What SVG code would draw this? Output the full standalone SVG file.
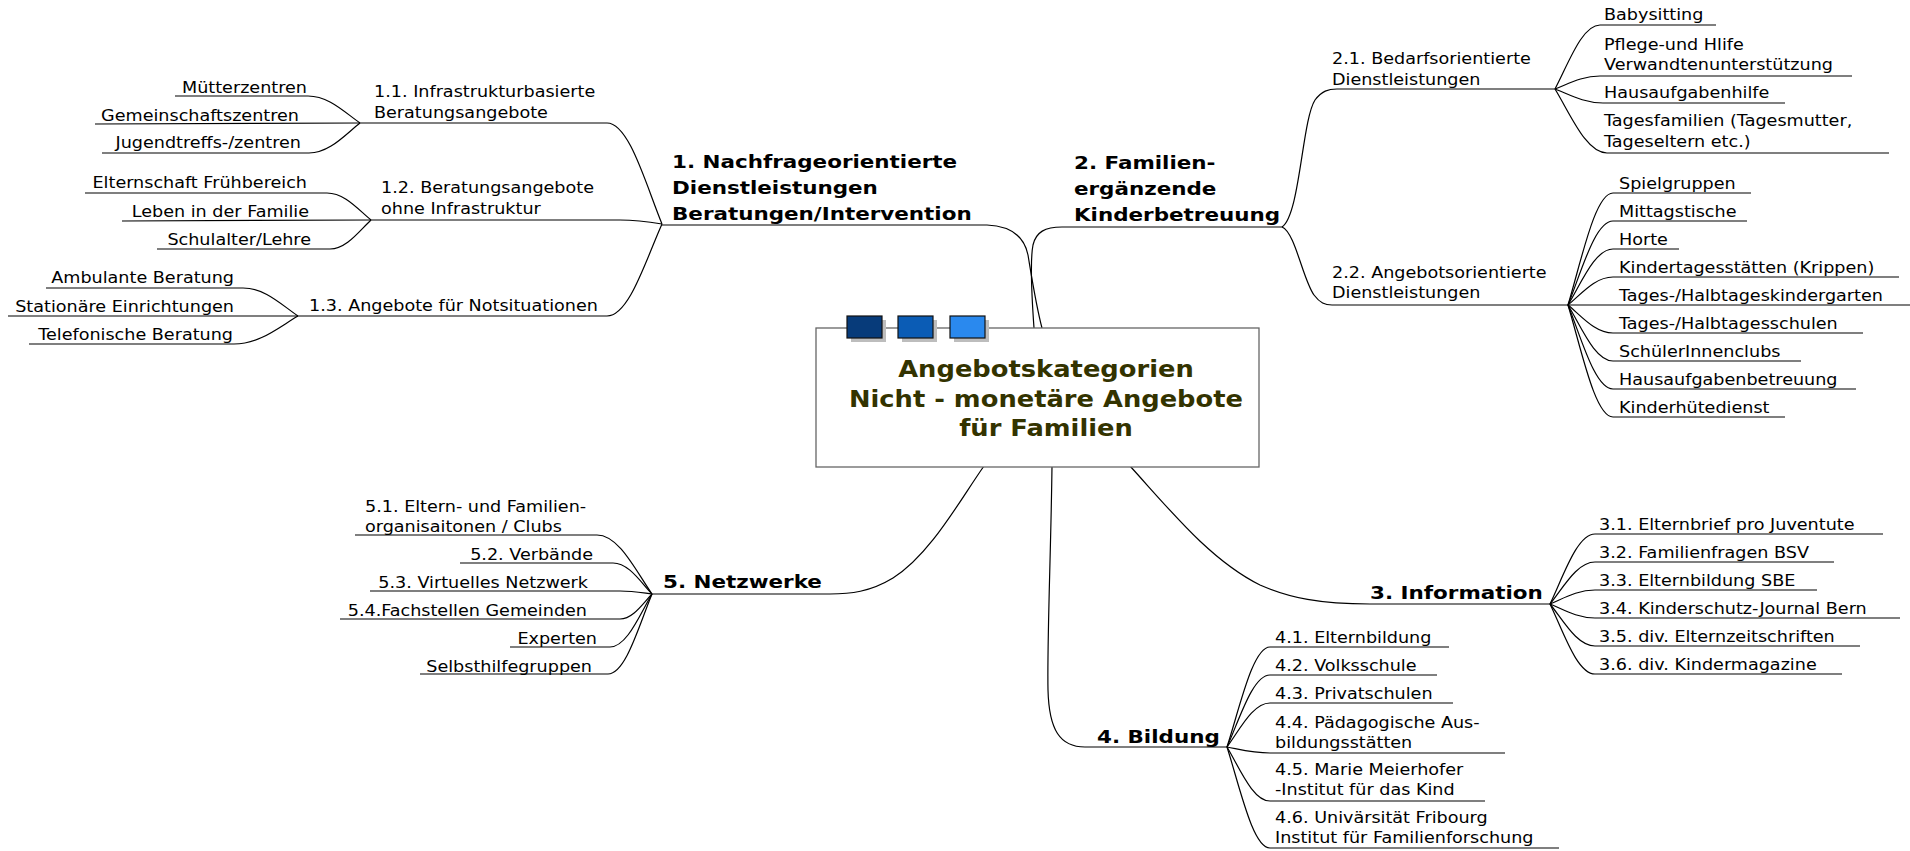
<svg xmlns="http://www.w3.org/2000/svg" width="1910" height="851" viewBox="0 0 1910 851">
<style>
.t{font-family:"DejaVu Sans","Liberation Sans",sans-serif;font-size:16px;fill:#000}
.e{text-anchor:end}
.b{font-family:"DejaVu Sans","Liberation Sans",sans-serif;font-size:18.5px;font-weight:bold;fill:#000}
.c{font-family:"DejaVu Sans","Liberation Sans",sans-serif;font-size:23px;font-weight:bold;fill:#333300;text-anchor:middle}
.ln{fill:none;stroke:#000;stroke-width:1.2}
.sh{fill:#bdbdbd}
.sq{stroke:#111;stroke-width:1.2}
</style>
<rect width="1910" height="851" fill="#fff"/>
<g id="connectors" class="ln">
<path d="M175,96 L308,96 C328.8,96 344.4,112.2 360,123"/>
<path d="M95,124 L360,123"/>
<path d="M102,153 L309,153 C329.4,153 344.7,135 360,123"/>
<path d="M85,193 L327,193 C344.6,193 357.8,209.2 371,220"/>
<path d="M122,221 L371,220"/>
<path d="M157,249 L330,249 C346.4,249 358.7,231.6 371,220"/>
<path d="M46,288 L243,288 C265,288 281.5,304.8 298,316"/>
<path d="M8,316 L298,316"/>
<path d="M29,344 L234,344 C259.6,344 278.8,327.2 298,316"/>
<path d="M360,123 L607,123 C629,123 645.5,183.6 662,224"/>
<path d="M371,220 L620,220 C637,220 650,222 662,224"/>
<path d="M298,316 L607,316 C629,316 645.5,260.8 662,224"/>
<path d="M662,225 L987,225 C1010,226 1024,235 1028,255 C1033,285 1036,305 1042,328"/>
<path d="M1034,328 C1032,300 1030,260 1033,245 C1036,232 1045,227 1062,227 L1282,227"/>
<path d="M1282,227 C1300,215 1302,120 1315,100 C1322,91 1328,89 1337,89 L1555,89"/>
<path d="M1282,227 C1295,232 1303,280 1314,295 C1320,303 1325,305 1332,305 L1568,305"/>
<path d="M1555,89 C1568.5,63.4 1582,25 1600,25 L1716,25"/>
<path d="M1555,89 C1568.5,83.8 1582,76 1600,76 L1852,76"/>
<path d="M1555,89 C1569.4,94.6 1583.8,103 1603,103 L1785,103"/>
<path d="M1555,89 C1570.6,114.6 1586.2,153 1607,153 L1889,153"/>
<path d="M1568,305 C1581.5,260.2 1595,193 1613,193 L1751,193"/>
<path d="M1568,305 C1581.5,271.4 1595,221 1613,221 L1747,221"/>
<path d="M1568,305 C1581.5,282.6 1595,249 1613,249 L1679,249"/>
<path d="M1568,305 C1581.5,293.8 1595,277 1613,277 L1899,277"/>
<path d="M1568,305 L1910,305"/>
<path d="M1568,305 C1581.5,316.2 1595,333 1613,333 L1863,333"/>
<path d="M1568,305 C1581.5,327.4 1595,361 1613,361 L1801,361"/>
<path d="M1568,305 C1581.5,338.6 1595,389 1613,389 L1856,389"/>
<path d="M1568,305 C1581.5,349.8 1595,417 1613,417 L1785,417"/>
<path d="M1130,466 C1170,510 1210,560 1260,585 C1290,598 1320,604 1370,604 L1550,604"/>
<path d="M1550,604 C1563.5,576 1577,534 1595,534 L1883,534"/>
<path d="M1550,604 C1563.5,587.2 1577,562 1595,562 L1834,562"/>
<path d="M1550,604 C1563.5,598.4 1577,590 1595,590 L1817,590"/>
<path d="M1550,604 C1563.5,609.6 1577,618 1595,618 L1900,618"/>
<path d="M1550,604 C1563.5,620.8 1577,646 1595,646 L1860,646"/>
<path d="M1550,604 C1563.5,632 1577,674 1595,674 L1842,674"/>
<path d="M1052,466 C1051,550 1047,640 1048,690 C1049,730 1060,747 1085,747 L1227,747"/>
<path d="M1227,747 C1239.9,707 1252.8,647 1270,647 L1449,647"/>
<path d="M1227,747 C1239.9,718.2 1252.8,675 1270,675 L1437,675"/>
<path d="M1227,747 C1239.9,729.4 1252.8,703 1270,703 L1453,703"/>
<path d="M1227,747 C1239.9,749.4 1252.8,753 1270,753 L1505,753"/>
<path d="M1227,747 C1239.9,768.6 1252.8,801 1270,801 L1485,801"/>
<path d="M1227,747 C1239.9,787.4 1252.8,848 1270,848 L1559,848"/>
<path d="M652,594 L830,594 C850,594 870,592 893,578 C930,555 960,500 984,466"/>
<path d="M355,535 L597,535 C619,535 635.5,570.4 652,594"/>
<path d="M460,563 L613,563 C628.6,563 640.3,581.6 652,594"/>
<path d="M370,591 L620,591 C632.8,591 642.4,592.8 652,594"/>
<path d="M340,619 L620,619 C632.8,619 642.4,604 652,594"/>
<path d="M510,647 L610,647 C626.8,647 639.4,615.2 652,594"/>
<path d="M420,674 L608,674 C625.6,674 638.8,626 652,594"/>
</g>
<g id="center">
<rect x="816" y="328" width="443" height="139" fill="#fff" stroke="#666" stroke-width="1.3"/>
<rect class="sh" x="851" y="320" width="35" height="22"/>
<rect class="sh" x="902" y="320" width="35" height="22"/>
<rect class="sh" x="954" y="320" width="35" height="22"/>
<rect class="sq" x="847" y="316" width="35" height="22" fill="#073b7a"/>
<rect class="sq" x="898" y="316" width="35" height="22" fill="#0b5cb5"/>
<rect class="sq" x="950" y="316" width="35" height="22" fill="#2a89ee"/>
<text class="c" transform="matrix(1.12 0 0 1 1046 377)"><tspan x="0" y="0">Angebotskategorien</tspan><tspan x="0" y="30">Nicht - monetäre Angebote</tspan><tspan x="0" y="59">für Familien</tspan></text>
</g>
<g id="n1"><text class="b" transform="matrix(1.16 0 0 1 672 168)"><tspan x="0" y="0">1. Nachfrageorientierte</tspan><tspan x="0" y="26">Dienstleistungen</tspan><tspan x="0" y="52">Beratungen/Intervention</tspan></text></g>
<g id="n1-1"><text class="t" transform="matrix(1.1 0 0 1 374 97)"><tspan x="0" y="0">1.1. Infrastrukturbasierte</tspan><tspan x="0" y="21">Beratungsangebote</tspan></text></g>
<g id="n1-1-1"><text class="t e" transform="matrix(1.1 0 0 1 307 93)">Mütterzentren</text></g>
<g id="n1-1-2"><text class="t e" transform="matrix(1.1 0 0 1 299 121)">Gemeinschaftszentren</text></g>
<g id="n1-1-3"><text class="t e" transform="matrix(1.1 0 0 1 301 148)">Jugendtreffs-/zentren</text></g>
<g id="n1-2"><text class="t" transform="matrix(1.1 0 0 1 381 193)"><tspan x="0" y="0">1.2. Beratungsangebote</tspan><tspan x="0" y="21">ohne Infrastruktur</tspan></text></g>
<g id="n1-2-1"><text class="t e" transform="matrix(1.1 0 0 1 307 188)">Elternschaft Frühbereich</text></g>
<g id="n1-2-2"><text class="t e" transform="matrix(1.1 0 0 1 309 217)">Leben in der Familie</text></g>
<g id="n1-2-3"><text class="t e" transform="matrix(1.1 0 0 1 311 245)">Schulalter/Lehre</text></g>
<g id="n1-3"><text class="t" transform="matrix(1.1 0 0 1 309 311)">1.3. Angebote für Notsituationen</text></g>
<g id="n1-3-1"><text class="t e" transform="matrix(1.1 0 0 1 234 283)">Ambulante Beratung</text></g>
<g id="n1-3-2"><text class="t e" transform="matrix(1.1 0 0 1 234 312)">Stationäre Einrichtungen</text></g>
<g id="n1-3-3"><text class="t e" transform="matrix(1.1 0 0 1 233 340)">Telefonische Beratung</text></g>
<g id="n2"><text class="b" transform="matrix(1.16 0 0 1 1074 169)"><tspan x="0" y="0">2. Familien-</tspan><tspan x="0" y="26">ergänzende</tspan><tspan x="0" y="52">Kinderbetreuung</tspan></text></g>
<g id="n2-1"><text class="t" transform="matrix(1.1 0 0 1 1332 64)"><tspan x="0" y="0">2.1. Bedarfsorientierte</tspan><tspan x="0" y="21">Dienstleistungen</tspan></text></g>
<g id="n2-1-1"><text class="t" transform="matrix(1.1 0 0 1 1604 20)">Babysitting</text></g>
<g id="n2-1-2"><text class="t" transform="matrix(1.1 0 0 1 1604 50)"><tspan x="0" y="0">Pflege-und Hlife</tspan><tspan x="0" y="20">Verwandtenunterstützung</tspan></text></g>
<g id="n2-1-3"><text class="t" transform="matrix(1.1 0 0 1 1604 98)">Hausaufgabenhilfe</text></g>
<g id="n2-1-4"><text class="t" transform="matrix(1.1 0 0 1 1604 126)"><tspan x="0" y="0">Tagesfamilien (Tagesmutter,</tspan><tspan x="0" y="21">Tageseltern etc.)</tspan></text></g>
<g id="n2-2"><text class="t" transform="matrix(1.1 0 0 1 1332 278)"><tspan x="0" y="0">2.2. Angebotsorientierte</tspan><tspan x="0" y="20">Dienstleistungen</tspan></text></g>
<g id="n2-2-1"><text class="t" transform="matrix(1.1 0 0 1 1619 189)">Spielgruppen</text></g>
<g id="n2-2-2"><text class="t" transform="matrix(1.1 0 0 1 1619 217)">Mittagstische</text></g>
<g id="n2-2-3"><text class="t" transform="matrix(1.1 0 0 1 1619 245)">Horte</text></g>
<g id="n2-2-4"><text class="t" transform="matrix(1.1 0 0 1 1619 273)">Kindertagesstätten (Krippen)</text></g>
<g id="n2-2-5"><text class="t" transform="matrix(1.1 0 0 1 1619 301)">Tages-/Halbtageskindergarten</text></g>
<g id="n2-2-6"><text class="t" transform="matrix(1.1 0 0 1 1619 329)">Tages-/Halbtagesschulen</text></g>
<g id="n2-2-7"><text class="t" transform="matrix(1.1 0 0 1 1619 357)">SchülerInnenclubs</text></g>
<g id="n2-2-8"><text class="t" transform="matrix(1.1 0 0 1 1619 385)">Hausaufgabenbetreuung</text></g>
<g id="n2-2-9"><text class="t" transform="matrix(1.1 0 0 1 1619 413)">Kinderhütedienst</text></g>
<g id="n3"><text class="b" transform="matrix(1.16 0 0 1 1370 599)">3. Information</text></g>
<g id="n3-1"><text class="t" transform="matrix(1.1 0 0 1 1599 530)">3.1. Elternbrief pro Juventute</text></g>
<g id="n3-2"><text class="t" transform="matrix(1.1 0 0 1 1599 558)">3.2. Familienfragen BSV</text></g>
<g id="n3-3"><text class="t" transform="matrix(1.1 0 0 1 1599 586)">3.3. Elternbildung SBE</text></g>
<g id="n3-4"><text class="t" transform="matrix(1.1 0 0 1 1599 614)">3.4. Kinderschutz-Journal Bern</text></g>
<g id="n3-5"><text class="t" transform="matrix(1.1 0 0 1 1599 642)">3.5. div. Elternzeitschriften</text></g>
<g id="n3-6"><text class="t" transform="matrix(1.1 0 0 1 1599 670)">3.6. div. Kindermagazine</text></g>
<g id="n4"><text class="b" transform="matrix(1.16 0 0 1 1097 743)">4. Bildung</text></g>
<g id="n4-1"><text class="t" transform="matrix(1.1 0 0 1 1275 643)">4.1. Elternbildung</text></g>
<g id="n4-2"><text class="t" transform="matrix(1.1 0 0 1 1275 671)">4.2. Volksschule</text></g>
<g id="n4-3"><text class="t" transform="matrix(1.1 0 0 1 1275 699)">4.3. Privatschulen</text></g>
<g id="n4-4"><text class="t" transform="matrix(1.1 0 0 1 1275 728)"><tspan x="0" y="0">4.4. Pädagogische Aus-</tspan><tspan x="0" y="20">bildungsstätten</tspan></text></g>
<g id="n4-5"><text class="t" transform="matrix(1.1 0 0 1 1275 775)"><tspan x="0" y="0">4.5. Marie Meierhofer</tspan><tspan x="0" y="20">-Institut für das Kind</tspan></text></g>
<g id="n4-6"><text class="t" transform="matrix(1.1 0 0 1 1275 823)"><tspan x="0" y="0">4.6. Univärsität Fribourg</tspan><tspan x="0" y="20">Institut für Familienforschung</tspan></text></g>
<g id="n5"><text class="b" transform="matrix(1.16 0 0 1 663 588)">5. Netzwerke</text></g>
<g id="n5-1"><text class="t" transform="matrix(1.1 0 0 1 365 512)"><tspan x="0" y="0">5.1. Eltern- und Familien-</tspan><tspan x="0" y="20">organisaitonen / Clubs</tspan></text></g>
<g id="n5-2"><text class="t e" transform="matrix(1.1 0 0 1 593 560)">5.2. Verbände</text></g>
<g id="n5-3"><text class="t e" transform="matrix(1.1 0 0 1 588 588)">5.3. Virtuelles Netzwerk</text></g>
<g id="n5-4"><text class="t e" transform="matrix(1.1 0 0 1 587 616)">5.4.Fachstellen Gemeinden</text></g>
<g id="n5-5"><text class="t e" transform="matrix(1.1 0 0 1 597 644)">Experten</text></g>
<g id="n5-6"><text class="t e" transform="matrix(1.1 0 0 1 592 672)">Selbsthilfegruppen</text></g>
</svg>
